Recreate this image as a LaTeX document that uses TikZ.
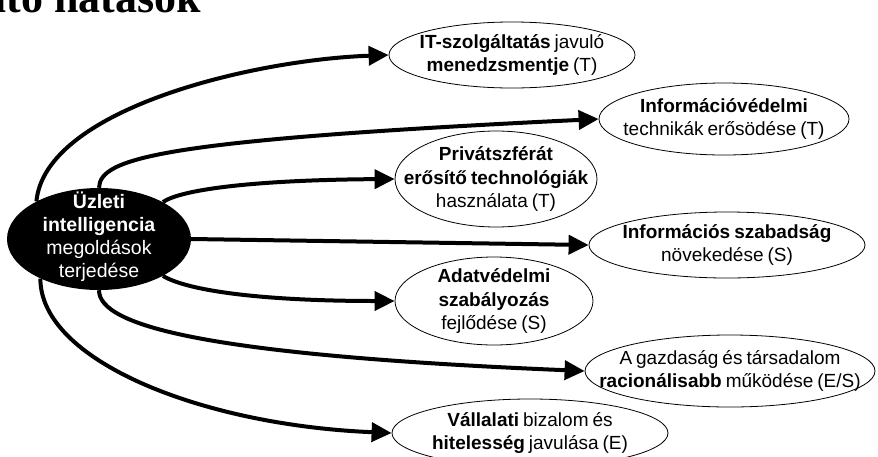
\documentclass[tikz,border=0pt]{standalone}
\usepackage{fontspec}
\setmainfont{Liberation Sans}[WordSpace={0.75}]
\newfontfamily\headfont{Liberation Serif}
\usetikzlibrary{shapes.geometric,arrows.meta}

% centred multi-line label of zero size, so the oval keeps its own size
\newcommand{\ovaltext}[1]{\smash{\makebox[0pt]{\raisebox{-4.75pt}{\begin{tabular}{@{}c@{}}#1\end{tabular}}}}}

\tikzset{
  effect/.style={ellipse, draw=black, line width=0.8pt, fill=white, inner sep=0pt,
    font=\fontsize{19}{23.5}\selectfont},
  hub/.style={ellipse, fill=black, text=white, inner sep=0pt,
    font=\fontsize{19.5}{23}\selectfont},
  link/.style={line width=4pt, -{Triangle[length=20pt,width=19pt]}},
}

\begin{document}
\begin{tikzpicture}[x=1pt, y=-1pt]
\useasboundingbox (0,0) rectangle (878,456);
\clip (0,0) rectangle (878,456);

% heading, only its lower edge is in view
\node[anchor=base east, inner sep=0pt, font=\headfont\bfseries\fontsize{44}{44}\selectfont]
  (head) at (201,12) {Várható hatások};

% central cause
\node[hub, minimum width=184pt, minimum height=102pt] (bi) at (99,239)
  {\ovaltext{\textbf{Üzleti}\\\textbf{intelligencia}\\megoldások\\terjedése}};

% effects
\node[effect, minimum width=246pt, minimum height=66pt] (e1) at (512,55)
  {\ovaltext{\textbf{IT-szolgáltatás} javuló\\\textbf{menedzsmentje} (T)}};
\node[effect, minimum width=250pt, minimum height=72pt] (e2) at (724,119)
  {\ovaltext{\textbf{Információvédelmi}\\technikák erősödése (T)}};
\node[effect, minimum width=202pt, minimum height=96pt] (e3) at (496,179)
  {\ovaltext{\textbf{Privátszférát}\\\textbf{erősítő technológiák}\\használata (T)}};
\node[effect, minimum width=276pt, minimum height=66pt] (e4) at (727,245)
  {\ovaltext{\textbf{Információs szabadság}\\növekedése (S)}};
\node[effect, minimum width=198pt, minimum height=88pt] (e5) at (494,301)
  {\ovaltext{\textbf{Adatvédelmi}\\\textbf{szabályozás}\\fejlődése (S)}};
\node[effect, minimum width=290pt, minimum height=72pt] (e6) at (730,371)
  {\ovaltext{A gazdaság és társadalom\\\textbf{racionálisabb} működése (E/S)}};
\node[effect, minimum width=276pt, minimum height=68pt] (e7) at (530,433)
  {\ovaltext{\textbf{Vállalati} bizalom és\\\textbf{hitelesség} javulása (E)}};

% connectors
\draw[link] (bi.149) .. controls (45,110) and (250,60) .. (e1.west);
\draw[link] (bi.north) .. controls (100,158) and (160,140) .. (e2.west);
\draw[link] (bi.30) .. controls (180,190) and (250,180) .. (e3.west);
\draw[link] (bi.east) -- (e4.west);
\draw[link] (bi.-30) .. controls (190,292) and (270,301) .. (e5.west);
\draw[link] (bi.south) .. controls (99,325) and (200,355) .. (e6.west);
\draw[link] (bi.214) .. controls (40,360) and (200,425) .. (e7.west);
\end{tikzpicture}
\end{document}
